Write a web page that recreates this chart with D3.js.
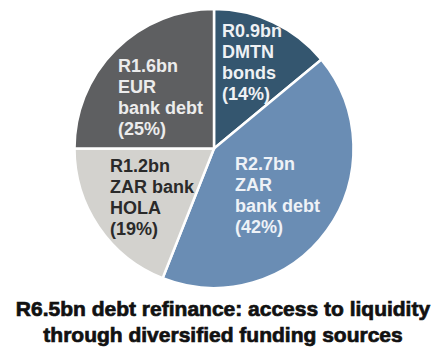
<!DOCTYPE html>
<html>
<head>
<meta charset="utf-8">
<script src="https://cdn.jsdelivr.net/npm/d3@7/dist/d3.min.js"></script>
<style>
  html, body { margin: 0; padding: 0; background: #ffffff; }
  svg { display: block; }
  text { font-family: "Liberation Sans", Arial, Helvetica, sans-serif; font-weight: bold; }
</style>
</head>
<body>
<div id="chart"></div>
<script>
// Funding sources of the debt refinance
const sourceNames = [["DMTN", "bonds"], ["ZAR", "bank debt"], ["ZAR bank", "HOLA"], ["EUR", "bank debt"]];
const amountsBn = [0.9, 2.7, 1.2, 1.6];
const sharePct = [14, 42, 19, 25];
const sliceColors = ["#34566f", "#6a8db4", "#d3d2ce", "#5e5f61"];
const labelColors = ["#eef1f4", "#eef2f7", "#2a2a2a", "#ececec"];
const titleLines = ["R6.5bn debt refinance: access to liquidity", "through diversified funding sources"];

const width = 442, height = 347;
const cx = 214, cy = 148.5, radius = 139.5;

// label anchor (left edge, first baseline) relative to the pie centre
const labelOffsets = [[8, -112], [21, 21.5], [-104, 23.5], [-96, -76.5]];
const lineStep = 21;

const data = sharePct.map((p, i) => ({
  pct: p,
  amount: amountsBn[i],
  lines: ["R" + amountsBn[i].toFixed(1) + "bn", ...sourceNames[i], "(" + p + "%)"],
  color: sliceColors[i],
  textColor: labelColors[i],
  offset: labelOffsets[i]
}));

const svg = d3.select("#chart").append("svg")
  .attr("width", width).attr("height", height);

const pie = d3.pie().sort(null).value(d => d.pct).startAngle(0).endAngle(2 * Math.PI);
const arc = d3.arc().innerRadius(0).outerRadius(radius);

const g = svg.append("g").attr("transform", `translate(${cx},${cy})`);

g.selectAll("path.slice")
  .data(pie(data))
  .join("path")
  .attr("class", "slice")
  .attr("d", arc)
  .attr("fill", d => d.data.color)
  .attr("stroke", "#ffffff")
  .attr("stroke-width", 2.5)
  .attr("stroke-linejoin", "miter");

const labels = g.selectAll("text.lbl")
  .data(data)
  .join("text")
  .attr("class", "lbl")
  .attr("x", d => d.offset[0])
  .attr("y", d => d.offset[1])
  .attr("fill", d => d.textColor)
  .style("font-size", "18px");

labels.selectAll("tspan")
  .data(d => d.lines.map(t => ({ t, x: d.offset[0] })))
  .join("tspan")
  .attr("x", d => d.x)
  .attr("dy", (d, i) => i === 0 ? 0 : lineStep)
  .text(d => d);

labels.selectAll("tspan").text(d => d.t);

// Title below the pie
svg.append("g").selectAll("text")
  .data(titleLines)
  .join("text")
  .attr("x", 223)
  .attr("y", (d, i) => 316 + i * 26)
  .attr("text-anchor", "middle")
  .attr("fill", "#111111")
  .attr("stroke", "#111111")
  .attr("stroke-width", 0.7)
  .style("font-size", "21px")
  .text(d => d);
</script>
</body>
</html>
